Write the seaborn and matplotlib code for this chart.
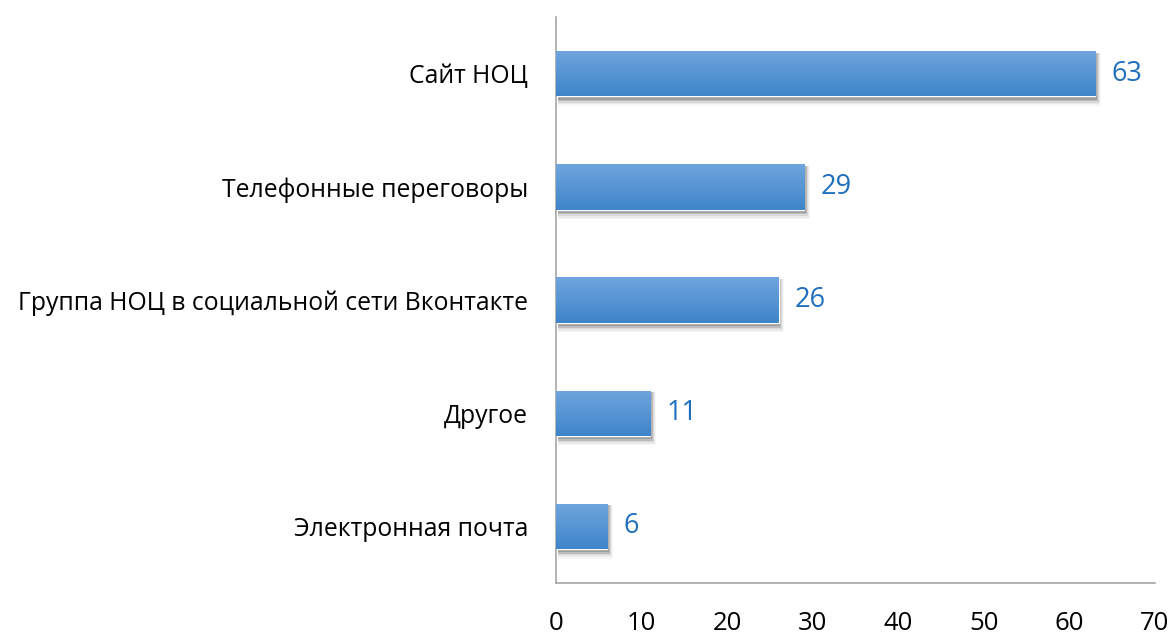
import numpy as np
import pandas as pd
import seaborn as sns
import matplotlib.pyplot as plt
from matplotlib.colors import LinearSegmentedColormap
from matplotlib.patches import Rectangle

categories = ["Сайт НОЦ", "Телефонные переговоры",
              "Группа НОЦ в социальной сети Вконтакте", "Другое", "Электронная почта"]
values = [63, 29, 26, 11, 6]

df = pd.DataFrame({"cat": categories, "val": values})

sns.set_style("white")
plt.rcParams["font.family"] = ["Open Sans", "DejaVu Sans"]

fig = plt.figure(figsize=(11.75, 6.37), dpi=100)
ax = fig.add_axes([0.4732, 0.0848, 0.5098, 0.8882])

sns.barplot(data=df, y="cat", x="val", orient="h", color="#5B9BD5", width=0.4, ax=ax)

grad = LinearSegmentedColormap.from_list("g", ["#6FA5DD", "#3E85CA"])
for p in list(ax.patches):
    x0, y0 = p.get_x(), p.get_y()
    w, h = p.get_width(), p.get_height()
    # soft shadow below the bar
    for i, a in enumerate([0.16, 0.12, 0.08, 0.05, 0.03]):
        d = 0.014 * (i + 1)
        ax.add_patch(Rectangle((x0 + 0.2, y0 + 0.015), w + 0.12 * i, h + d,
                               color="black", alpha=a, lw=0, zorder=1))
    p.set_zorder(2)
    im = ax.imshow(np.linspace(0, 1, 100).reshape(-1, 1), cmap=grad, aspect="auto",
                   extent=(x0, x0 + w, y0 + h, y0), zorder=3, origin="upper")
    im.set_clip_path(p)
    ax.text(x0 + w + 1.9, y0 + h / 2, f"{w:g}", va="center", ha="left",
            fontsize=19.5, color="#1F6FBE")

ax.set_xlim(0, 70)
ax.set_ylim(4.5, -0.5)
ax.set_xticks(range(0, 71, 10))
ax.set_xlabel("")
ax.set_ylabel("")
ax.tick_params(axis="x", labelsize=18.5, pad=20, length=0, labelcolor="black")
ax.tick_params(axis="y", labelsize=17.8, pad=20, length=0, labelcolor="black")
for s in ["top", "right"]:
    ax.spines[s].set_visible(False)
for s in ["left", "bottom"]:
    ax.spines[s].set_color("#A6A6A6")
    ax.spines[s].set_linewidth(1.2)

fig.savefig("out.png", dpi=100)
